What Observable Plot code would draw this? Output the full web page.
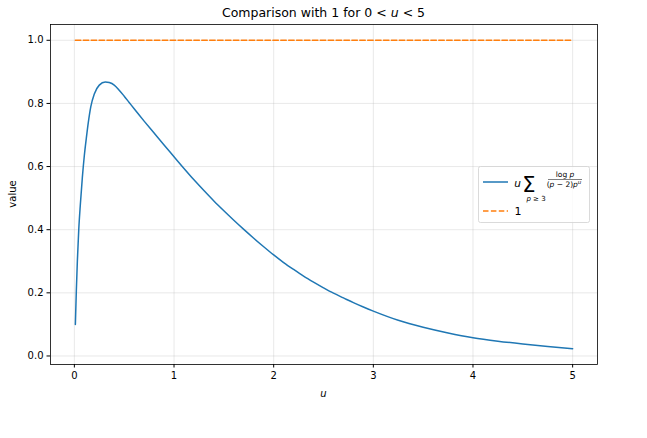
<!DOCTYPE html>
<html>
<head>
<meta charset="utf-8">
<script src="https://cdn.jsdelivr.net/npm/d3@7"></script>
<script src="https://cdn.jsdelivr.net/npm/@observablehq/plot@0.6"></script>
<style>
  html, body { margin: 0; padding: 0; background: #fff; }
  #chart { width: 647px; height: 438px; }
</style>
</head>
<body>
<div id="chart"></div>
<script>
// ---- data ----
const uValues = [0.01, 0.02, 0.03, 0.044, 0.06, 0.08, 0.1, 0.12, 0.14, 0.165, 0.2, 0.25, 0.31, 0.35, 0.4, 0.45, 0.5, 0.55, 0.6, 0.7, 0.8, 0.9, 1.0, 1.1, 1.2, 1.3, 1.4, 1.5, 1.6, 1.7, 1.8, 1.9, 2.0, 2.1, 2.2, 2.3, 2.4, 2.5, 2.6, 2.7, 2.8, 2.9, 3.0, 3.25, 3.5, 3.75, 4.0, 4.25, 4.5, 4.75, 5.0];
const sumValues = [0.10, 0.21, 0.30, 0.40, 0.48, 0.565, 0.635, 0.69, 0.74, 0.79, 0.83, 0.858, 0.868, 0.866, 0.858, 0.842, 0.823, 0.803, 0.783, 0.744, 0.706, 0.668, 0.631, 0.594, 0.558, 0.524, 0.491, 0.460, 0.430, 0.401, 0.373, 0.346, 0.320, 0.296, 0.274, 0.253, 0.234, 0.216, 0.199, 0.184, 0.169, 0.155, 0.142, 0.113, 0.091, 0.073, 0.058, 0.047, 0.038, 0.030, 0.023];
const oneU = [0.01, 5.0];
const oneValues = [1, 1];
const xTicks = [0, 1, 2, 3, 4, 5];
const yTicks = [0.0, 0.2, 0.4, 0.6, 0.8, 1.0];
const titleText = ["Comparison with 1 for 0 < ", "u", " < 5"];

const sumData = uValues.map((u, i) => ({u, v: sumValues[i]}));
const oneData = oneU.map((u, i) => ({u, v: oneValues[i]}));

const font = "DejaVu Sans";
const W = 647, H = 438;
const mL = 50, mR = 50, mT = 24, mB = 74;

const chart = Plot.plot({
  width: W, height: H,
  marginLeft: mL, marginRight: mR, marginTop: mT, marginBottom: mB,
  style: {fontFamily: font, fontSize: "10px", color: "#000", background: "#fff"},
  x: {domain: [-0.2395, 5.2495], label: null},
  y: {domain: [-0.027, 1.050], label: null},
  marks: [
    Plot.gridX(xTicks, {stroke: "#b0b0b0", strokeOpacity: 0.35, strokeWidth: 0.8}),
    Plot.gridY(yTicks, {stroke: "#b0b0b0", strokeOpacity: 0.35, strokeWidth: 0.8}),
    Plot.axisX(xTicks, {tickSize: 3.5, tickPadding: 3.5, tickFormat: d => String(d), fontSize: 10, label: null}),
    Plot.axisY(yTicks, {tickSize: 3.5, tickPadding: 3.5, tickFormat: d => d.toFixed(1), fontSize: 10, label: null}),
    Plot.line(sumData, {x: "u", y: "v", stroke: "#1f77b4", strokeWidth: 1.5, curve: "monotone-x"}),
    Plot.line(oneData, {x: "u", y: "v", stroke: "#ff7f0e", strokeWidth: 1.5, strokeDasharray: "5.5,2.4"}),
    Plot.frame({stroke: "#000", strokeWidth: 0.8})
  ]
});
document.getElementById("chart").appendChild(chart);

const svg = d3.select(chart);
const cx = (mL + (W - mR)) / 2;

// title
const t = svg.append("text").attr("x", cx).attr("y", 17).attr("text-anchor", "middle")
  .attr("font-family", font).attr("font-size", 12.5).attr("fill", "#000");
t.append("tspan").text(titleText[0]);
t.append("tspan").attr("font-style", "italic").text(titleText[1]);
t.append("tspan").text(titleText[2]);

// axis labels
svg.append("text").attr("x", cx).attr("y", 397).attr("text-anchor", "middle")
  .attr("font-family", font).attr("font-size", 10).attr("font-style", "italic").text("u");
svg.append("text").attr("transform", `translate(16,${(mT + H - mB) / 2}) rotate(-90)`)
  .attr("text-anchor", "middle").attr("font-family", font).attr("font-size", 10).text("value");

// legend
const lg = svg.append("g").attr("font-family", font).attr("fill", "#000");
lg.append("rect").attr("x", 478.5).attr("y", 166.5).attr("width", 111).attr("height", 56)
  .attr("rx", 2).attr("fill", "#fff").attr("fill-opacity", 0.8).attr("stroke", "#d0d0d0").attr("stroke-width", 0.8);
lg.append("line").attr("x1", 483).attr("x2", 508).attr("y1", 182).attr("y2", 182)
  .attr("stroke", "#1f77b4").attr("stroke-width", 1.5);
lg.append("text").attr("x", 517.5).attr("y", 186.5).attr("font-size", 10.5).attr("font-style", "italic").text("u");
lg.append("text").attr("x", 529).attr("y", 192).attr("font-size", 21).text("Σ");
const sub = lg.append("text").attr("x", 536).attr("y", 201).attr("text-anchor", "middle").attr("font-size", 7);
sub.append("tspan").attr("font-style", "italic").text("p");
sub.append("tspan").text(" ≥ 3");
const num = lg.append("text").attr("x", 565).attr("y", 177).attr("text-anchor", "middle").attr("font-size", 7.5);
num.append("tspan").text("log ");
num.append("tspan").attr("font-style", "italic").text("p");
lg.append("line").attr("x1", 548).attr("x2", 582).attr("y1", 179.5).attr("y2", 179.5)
  .attr("stroke", "#000").attr("stroke-width", 0.5);
const den = lg.append("text").attr("x", 564).attr("y", 187).attr("text-anchor", "middle").attr("font-size", 7.5);
den.append("tspan").text("(");
den.append("tspan").attr("font-style", "italic").text("p");
den.append("tspan").text(" − 2)");
den.append("tspan").attr("font-style", "italic").text("p");
den.append("tspan").attr("font-style", "italic").attr("font-size", 5.5).attr("dy", -3).text("u");
lg.append("line").attr("x1", 483).attr("x2", 508).attr("y1", 211).attr("y2", 211)
  .attr("stroke", "#ff7f0e").attr("stroke-width", 1.5).attr("stroke-dasharray", "5.5,2.4");
lg.append("text").attr("x", 518).attr("y", 215).attr("font-size", 11).text("1");
</script>
</body>
</html>
